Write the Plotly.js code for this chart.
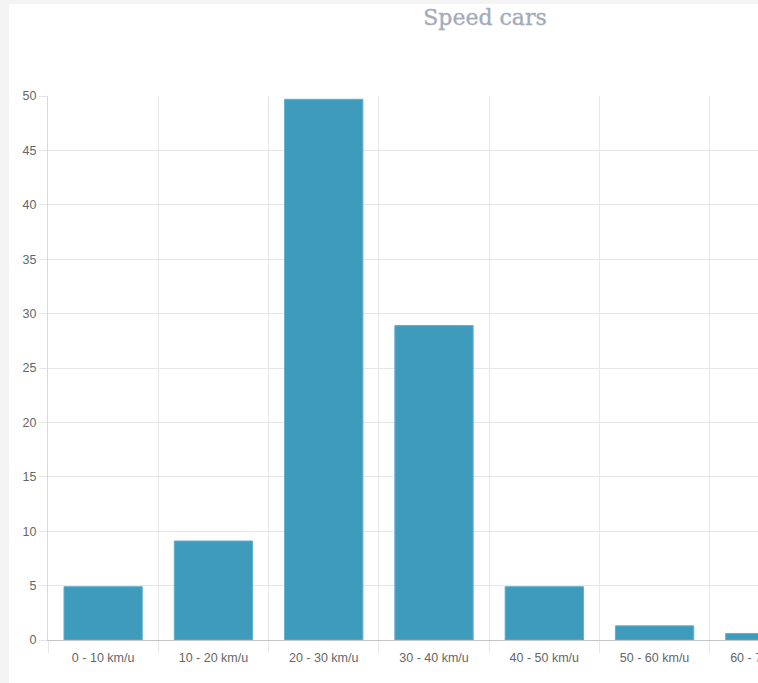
<!DOCTYPE html>
<html>
<head>
<meta charset="utf-8">
<script src="https://cdn.plot.ly/plotly-3.0.1.min.js"></script>
<style>
  html, body { margin: 0; padding: 0; background: #f4f4f4; overflow: hidden; width: 758px; height: 683px; }
  #chart { position: absolute; left: 9px; top: 4px; width: 952px; height: 679px; background: #ffffff; }
  .gtitle { stroke: #a3abba; stroke-width: 0.35px; }
</style>
</head>
<body>
<div id="chart"></div>
<script>
const categories = ["0 - 10 km/u", "10 - 20 km/u", "20 - 30 km/u", "30 - 40 km/u", "40 - 50 km/u", "50 - 60 km/u", "60 - 70 km/u"];
const values = [4.9, 9.1, 49.7, 28.9, 4.9, 1.3, 0.6];
const yTicks = [0, 5, 10, 15, 20, 25, 30, 35, 40, 45, 50];

const trace = {
  type: "bar",
  x: categories,
  y: values,
  marker: { color: "#3f9bbc", line: { color: "#5fb0cc", width: 1 } },
  hoverinfo: "x+y"
};

const layout = {
  width: 952,
  height: 679,
  margin: { l: 39, r: 141, t: 92, b: 43 },
  paper_bgcolor: "#ffffff",
  plot_bgcolor: "#ffffff",
  showlegend: false,
  bargap: 0.29,
  title: {
    text: "Speed cars",
    font: { family: "DejaVu Serif", size: 22, color: "#a3abba" },
    x: 0.5, xref: "container", xanchor: "center",
    y: 1, yref: "container", yanchor: "top", pad: { t: 6 }
  },
  xaxis: {
    type: "category",
    range: [-0.5, 6.5],
    tickson: "boundaries",
    showgrid: true,
    gridcolor: "#e6e6e6",
    gridwidth: 1,
    ticks: "outside",
    ticklen: 12,
    tickcolor: "#e6e6e6",
    showline: true,
    linecolor: "#c4c4c4",
    linewidth: 1,
    ticklabelstandoff: 6,
    tickfont: { family: "Liberation Sans, Arial", size: 12.5, color: "#666666" },
    zeroline: false,
    fixedrange: true
  },
  yaxis: {
    range: [0, 50],
    tickvals: yTicks,
    showgrid: true,
    gridcolor: "#e6e6e6",
    gridwidth: 1,
    ticks: "outside",
    ticklen: 8,
    tickcolor: "#e6e6e6",
    showline: true,
    linecolor: "#d9d9d9",
    linewidth: 1,
    zeroline: false,
    ticklabelstandoff: 0,
    tickfont: { family: "Liberation Sans, Arial", size: 12.5, color: "#666666" },
    fixedrange: true
  }
};

Plotly.newPlot("chart", [trace], layout, { displayModeBar: false, responsive: false });
</script>
</body>
</html>
